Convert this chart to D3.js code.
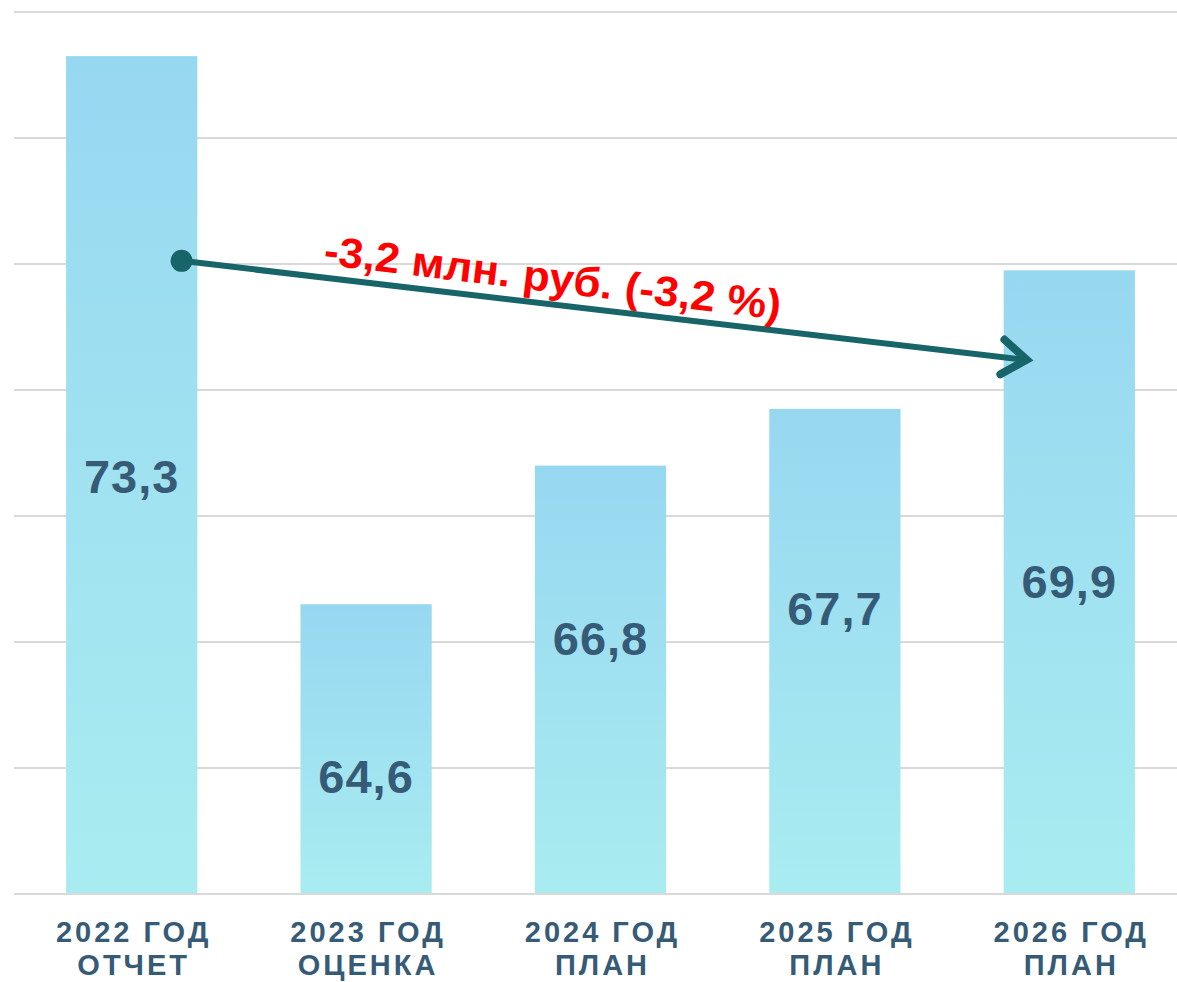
<!DOCTYPE html>
<html>
<head>
  <meta charset="UTF-8">
  <style>
    body { margin: 0; background: #fff; }
    svg { display: block; }
  </style>
</head>
<body>
<svg></svg>
<script src="https://d3js.org/d3.v7.min.js"></script>
<script>

let width = 1177, height = 982;

// data
const years = ["2022 ГОД", "2023 ГОД", "2024 ГОД", "2025 ГОД", "2026 ГОД"];
const kinds = ["ОТЧЕТ", "ОЦЕНКА", "ПЛАН", "ПЛАН", "ПЛАН"];
const values = [73.3, 64.6, 66.8, 67.7, 69.9];
const valueText = ["73,3", "64,6", "66,8", "67,7", "69,9"];
const gridTicks = [60, 62, 64, 66, 68, 70, 72, 74];
const changeText = "-3,2 млн. руб. (-3,2 %)";

// label shift from bar middle (layout only)
const labelShift = [4, 30, -39, -40, 2];

let svg = d3.select("svg")
    .attr("width", width)
    .attr("height", height)
    .attr("viewBox", "0 0 " + width + " " + height);

let x = d3.scaleBand()
    .domain(years)
    .range([14.5, 1186.5])
    .paddingInner(0.44)
    .paddingOuter(0.22);

let y = d3.scaleLinear()
    .domain([60, 74])
    .range([894, 12]);

let defs = svg.append("defs");
let grad = defs.append("linearGradient")
    .attr("id", "barGrad")
    .attr("x1", 0).attr("y1", 0).attr("x2", 0).attr("y2", 1);
grad.append("stop").attr("offset", "0%").attr("stop-color", "#97d8f1");
grad.append("stop").attr("offset", "100%").attr("stop-color", "#a9ecf0");

// grid
svg.append("g")
    .selectAll("line")
    .data(gridTicks)
    .enter()
    .append("line")
    .attr("x1", 14)
    .attr("x2", width)
    .attr("y1", d => y(d))
    .attr("y2", d => y(d))
    .style("stroke", "#d9d9d9")
    .style("stroke-width", 2);

// bars
svg.append("g")
    .selectAll("rect")
    .data(values)
    .enter()
    .append("rect")
    .attr("x", (d, i) => x(years[i]))
    .attr("y", d => y(d))
    .attr("width", x.bandwidth())
    .attr("height", d => y(60) - y(d) - 1)
    .attr("fill", "url(#barGrad)");

// value labels
svg.append("g")
    .selectAll("text")
    .data(values)
    .enter()
    .append("text")
    .attr("x", (d, i) => x(years[i]) + x.bandwidth() / 2)
    .attr("y", (d, i) => (y(d) + y(60)) / 2 + labelShift[i] + 14)
    .attr("text-anchor", "middle")
    .style("font-family", "Liberation Sans, Arial, sans-serif")
    .style("font-weight", "bold")
    .style("font-size", "47px")
    .style("letter-spacing", "1px")
    .style("fill", "#365b76")
    .text((d, i) => valueText[i]);

// category labels
let cat = svg.append("g")
    .selectAll("text")
    .data(years)
    .enter()
    .append("text")
    .attr("text-anchor", "middle")
    .style("font-family", "Liberation Sans, Arial, sans-serif")
    .style("font-weight", "bold")
    .style("font-size", "29px")
    .style("letter-spacing", "3px")
    .style("fill", "#365b76");

cat.append("tspan")
    .attr("x", d => x(d) + x.bandwidth() / 2 + 2)
    .attr("y", 942)
    .text(d => d);

cat.append("tspan")
    .attr("x", d => x(d) + x.bandwidth() / 2 + 2)
    .attr("y", 975)
    .text((d, i) => kinds[i]);

// change arrow
let x0 = x(years[0]) + x.bandwidth() * 0.88, y0 = y(70.05);
let x1 = x(years[4]) + x.bandwidth() * 0.175, y1 = y(68.48);
let ang = Math.atan2(y1 - y0, x1 - x0);
let arm = 30, spread = 0.62;

let arrow = svg.append("g")
    .style("stroke", "#176568")
    .style("stroke-width", 6)
    .style("stroke-linecap", "round")
    .style("fill", "none");

arrow.append("line")
    .attr("x1", x0).attr("y1", y0)
    .attr("x2", x1 - 3).attr("y2", y1);

arrow.append("path")
    .style("stroke-width", 8)
    .style("stroke-linejoin", "miter")
    .attr("d", d3.line()([
        [x1 - arm * Math.cos(ang - spread), y1 - arm * Math.sin(ang - spread)],
        [x1, y1],
        [x1 - arm * Math.cos(ang + spread), y1 - arm * Math.sin(ang + spread)]
    ]));

svg.append("circle")
    .attr("cx", x0).attr("cy", y0)
    .attr("r", 11)
    .style("fill", "#176568");

svg.append("text")
    .attr("transform", "translate(551,292) rotate(6.9)")
    .attr("text-anchor", "middle")
    .attr("textLength", 460)
    .attr("lengthAdjust", "spacingAndGlyphs")
    .style("font-family", "Liberation Sans, Arial, sans-serif")
    .style("font-weight", "bold")
    .style("font-size", "42px")
    .style("fill", "#ff0000")
    .text(changeText);

</script>
</body>
</html>
